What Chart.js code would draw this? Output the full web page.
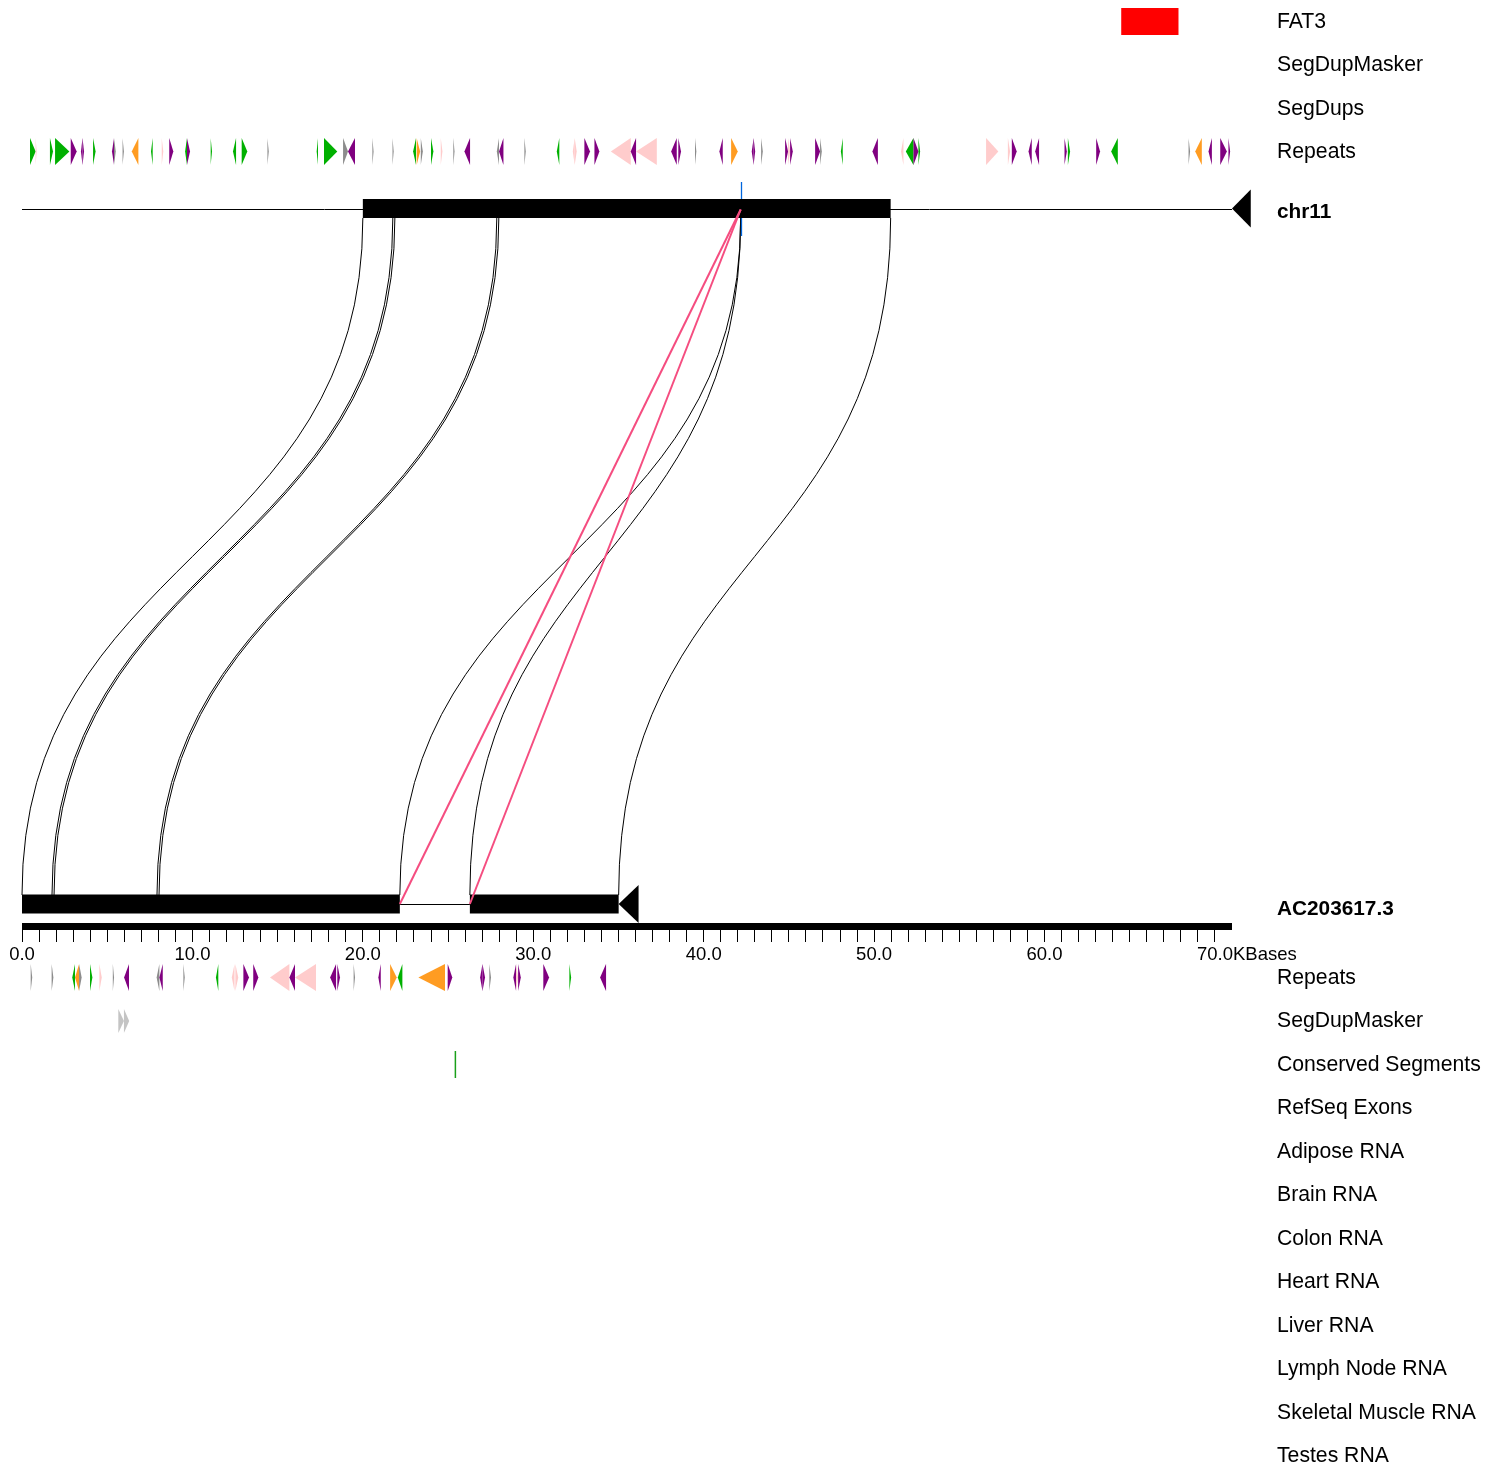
<!DOCTYPE html>
<html>
<head>
<meta charset="utf-8">
<script src="https://cdn.jsdelivr.net/npm/chart.js@4.4.1/dist/chart.umd.min.js"></script>
<style>
  html, body { margin: 0; padding: 0; background: #fff; }
  #wrap { width: 1494px; height: 1469px; }
</style>
</head>
<body>
<div id="wrap"><canvas id="synteny" width="1494" height="1469"></canvas></div>
<script>
// --- DATA (positions in KBases) ---
const axisMax = 71.0;
const axisTicks = Array.from({ length: 71 }, (_, i) => i); // 0..70 kb ruler ticks
const axisLabelTicks = [0, 10, 20, 30, 40, 50, 60, 70];

const chr11Length = 71.0;
const chr11Blocks = [[20.0, 50.97]];
const acBlocks = [[0.0, 22.17], [26.28, 35.01]];
const acEnd = 35.01;

// aligned blocks: chr11 interval -> AC203617.3 interval
const linkTop = [[20.0, 21.76], [21.88, 27.86], [27.98, 42.17], [42.17, 50.97]];
const linkBottom = [[0.0, 1.76], [1.88, 7.92], [8.04, 22.17], [26.28, 35.01]];

// inverted hits (pink)
const invTop = [42.17, 42.17];
const invBottom = [22.17, 26.28];
const markerTop = 42.17;

const fat3Gene = [64.5, 67.86];

// repeats: [start, end, strand, class]
const topRepeats = [
  [0.47, 0.80, 1, 'g'], [0.80, 0.86, 1, 'k'], [1.64, 1.82, 1, 'g'], [1.94, 2.78, 1, 'g'],
  [2.86, 3.21, 1, 'p'], [3.46, 3.55, -1, 'p'], [3.55, 3.64, 1, 'p'], [4.17, 4.32, 1, 'g'],
  [5.28, 5.40, -1, 'p'], [5.40, 5.50, 1, 's'], [5.90, 5.98, 1, 's'], [6.44, 6.83, -1, 'o'],
  [7.57, 7.67, -1, 'g'], [8.20, 8.29, 1, 'k'], [8.64, 8.88, 1, 'p'], [9.57, 9.68, -1, 'g'],
  [9.68, 9.86, 1, 'p'], [11.07, 11.15, 1, 'g'], [12.38, 12.56, -1, 'g'], [12.89, 13.22, 1, 'g'],
  [14.40, 14.48, 1, 's'], [17.29, 17.37, -1, 'g'], [17.72, 18.50, 1, 'g'], [18.84, 19.13, 1, 's'],
  [19.13, 19.54, -1, 'p'], [20.56, 20.63, 1, 's'], [21.74, 21.81, 1, 's'], [22.95, 23.12, -1, 'g'],
  [23.16, 23.36, 1, 'o'], [23.40, 23.52, 1, 's'], [24.00, 24.14, 1, 'g'], [24.57, 24.67, 1, 'k'],
  [25.31, 25.38, 1, 's'], [25.96, 26.29, -1, 'p'], [27.86, 27.99, -1, 's'], [27.99, 28.25, -1, 'p'],
  [29.48, 29.56, 1, 's'], [31.38, 31.53, -1, 'g'], [32.32, 32.43, -1, 'k'], [32.43, 32.55, 1, 'k'],
  [33.00, 33.33, 1, 'p'], [33.59, 33.88, 1, 'p'], [34.55, 35.72, -1, 'k'], [35.72, 36.03, -1, 'p'],
  [36.03, 37.25, -1, 'k'], [38.09, 38.42, -1, 'p'], [38.51, 38.67, 1, 'p'], [39.49, 39.57, 1, 's'],
  [40.92, 41.12, -1, 'p'], [41.61, 42.00, 1, 'o'], [42.82, 42.93, -1, 'p'], [42.93, 43.02, 1, 'p'],
  [43.37, 43.47, 1, 's'], [44.78, 44.95, 1, 'p'], [44.95, 45.07, 1, 'k'], [45.07, 45.23, 1, 'p'],
  [46.54, 46.83, 1, 'p'], [46.83, 46.93, 1, 's'], [48.05, 48.16, -1, 'g'], [49.90, 50.22, -1, 'p'],
  [51.58, 51.72, -1, 'k'], [51.86, 52.31, -1, 'g'], [52.31, 52.60, 1, 'p'], [52.60, 52.70, 1, 'g'],
  [56.57, 57.29, 1, 'k'], [57.85, 57.98, 1, 'k'], [58.08, 58.37, 1, 'p'], [59.06, 59.25, -1, 'p'],
  [59.45, 59.68, -1, 'p'], [61.17, 61.31, 1, 'p'], [61.37, 61.50, 1, 'g'], [63.03, 63.26, 1, 'p'],
  [63.91, 64.30, -1, 'g'], [68.45, 68.54, 1, 's'], [68.84, 69.23, -1, 'o'], [69.62, 69.82, -1, 'p'],
  [70.31, 70.70, 1, 'p'], [70.79, 70.89, 1, 'p']
];

const bottomRepeats = [
  [0.51, 0.60, 1, 's'], [1.74, 1.84, 1, 's'], [2.95, 3.11, -1, 'g'], [3.11, 3.35, -1, 'o'],
  [3.35, 3.50, 1, 's'], [3.99, 4.13, 1, 'g'], [4.54, 4.68, 1, 'k'], [5.33, 5.40, 1, 's'],
  [5.99, 6.28, -1, 'p'], [7.90, 8.06, -1, 's'], [8.06, 8.26, -1, 'p'], [9.47, 9.55, 1, 's'],
  [11.38, 11.52, -1, 'g'], [12.31, 12.47, -1, 'k'], [12.52, 12.69, 1, 'k'], [12.99, 13.32, 1, 'p'],
  [13.57, 13.87, 1, 'p'], [14.55, 15.69, -1, 'k'], [15.69, 16.02, -1, 'p'], [16.02, 17.25, -1, 'k'],
  [18.08, 18.43, -1, 'p'], [18.50, 18.66, 1, 'p'], [19.46, 19.54, 1, 's'], [20.91, 21.05, -1, 'p'],
  [21.60, 21.99, 1, 'o'], [22.05, 22.32, -1, 'g'], [23.26, 24.82, -1, 'o'], [24.98, 25.25, 1, 'p'],
  [26.88, 27.02, -1, 'p'], [27.02, 27.17, 1, 'p'], [27.42, 27.52, 1, 's'], [28.83, 28.99, -1, 'p'],
  [28.99, 29.11, 1, 'k'], [29.11, 29.27, 1, 'p'], [30.59, 30.93, 1, 'p'], [32.12, 32.22, 1, 'g'],
  [33.92, 34.27, -1, 'p']
];

const segDupMaskerBottom = [[5.65, 5.98, 1], [5.98, 6.29, 1]];
const conservedSegments = [25.43];

const topTrackNames = ['FAT3', 'SegDupMasker', 'SegDups', 'Repeats'];
const bottomTrackNames = ['Repeats', 'SegDupMasker', 'Conserved Segments', 'RefSeq Exons',
  'Adipose RNA', 'Brain RNA', 'Colon RNA', 'Heart RNA', 'Liver RNA', 'Lymph Node RNA',
  'Skeletal Muscle RNA', 'Testes RNA'];
const topSeqName = 'chr11';
const bottomSeqName = 'AC203617.3';
const axisUnit = 'KBases';

// --- STYLE / LAYOUT ---
const repeatColors = { g: '#00b000', p: '#800080', o: '#ff9c22', k: '#ffcccc', s: '#8c8c8c' };
const FONT = '"Liberation Sans", Arial, sans-serif';
const rowGap = 43.5;
const layout = {
  topRowY: 22, bottomRowY: 978, labelX: 1277,
  chrY: 208.5, acY: 904, barHalf: 9.5, arrowHalf: 19,
  linkTopY: 218, linkBottomY: 895, rulerTop: 923, rulerBottom: 930, tickLabelY: 954.5
};

function tri(ctx, x1, x2, yc, half, strand, color) {
  ctx.fillStyle = color;
  ctx.beginPath();
  if (strand > 0) {
    ctx.moveTo(x1, yc - half); ctx.lineTo(x2, yc); ctx.lineTo(x1, yc + half);
  } else {
    ctx.moveTo(x2, yc - half); ctx.lineTo(x1, yc); ctx.lineTo(x2, yc + half);
  }
  ctx.closePath();
  ctx.fill();
}

const genomePlugin = {
  id: 'genome',
  afterDraw(chart) {
    const ctx = chart.ctx;
    const xs = chart.scales.x;
    const px = v => xs.getPixelForValue(v);
    const L = layout;
    ctx.save();

    // ruler bar + labels
    ctx.fillStyle = '#000';
    ctx.fillRect(px(0), L.rulerTop, px(axisMax) - px(0), L.rulerBottom - L.rulerTop);
    ctx.font = '18.5px ' + FONT;
    ctx.textBaseline = 'middle';
    ctx.textAlign = 'center';
    axisLabelTicks.forEach(v => ctx.fillText(v.toFixed(1), px(v), L.tickLabelY));
    const lastLabel = axisLabelTicks[axisLabelTicks.length - 1];
    const wLast = ctx.measureText(lastLabel.toFixed(1)).width;
    ctx.textAlign = 'left';
    ctx.fillText(axisUnit, px(lastLabel) + wLast / 2, L.tickLabelY);

    // FAT3 gene
    ctx.fillStyle = '#ff0000';
    ctx.fillRect(px(fat3Gene[0]), 8, px(fat3Gene[1]) - px(fat3Gene[0]), 27);

    // repeats
    topRepeats.forEach(r => tri(ctx, px(r[0]), px(r[1]), 151.5, 13.5, r[2], repeatColors[r[3]]));
    bottomRepeats.forEach(r => tri(ctx, px(r[0]), px(r[1]), 977.5, 13.5, r[2], repeatColors[r[3]]));
    segDupMaskerBottom.forEach(r => tri(ctx, px(r[0]), px(r[1]), 1021, 12, r[2], '#c4c4c4'));

    // conserved segments
    ctx.strokeStyle = '#1aa01a';
    ctx.lineWidth = 1.5;
    conservedSegments.forEach(v => {
      ctx.beginPath();
      ctx.moveTo(px(v), 1051); ctx.lineTo(px(v), 1078);
      ctx.stroke();
    });

    // link curves
    const yt = L.linkTopY, yb = L.linkBottomY, ym = (yt + yb) / 2;
    ctx.strokeStyle = '#000';
    ctx.lineWidth = 1;
    linkTop.forEach((t, i) => {
      const b = linkBottom[i];
      [0, 1].forEach(k => {
        const x1 = px(t[k]), x2 = px(b[k]);
        ctx.beginPath();
        ctx.moveTo(x1, yt);
        ctx.bezierCurveTo(x1, ym, x2, ym, x2, yb);
        ctx.stroke();
      });
    });

    // blue marker
    const mx = Math.round(px(markerTop)) + 0.5;
    ctx.strokeStyle = '#0066dd';
    ctx.lineWidth = 1.3;
    ctx.beginPath();
    ctx.moveTo(mx, 182);
    ctx.lineTo(mx, 236);
    ctx.stroke();

    // chr11 track
    ctx.strokeStyle = '#000';
    ctx.fillStyle = '#000';
    ctx.lineWidth = 1;
    ctx.beginPath();
    ctx.moveTo(px(0), 209.5); ctx.lineTo(px(chr11Length), 209.5);
    ctx.stroke();
    chr11Blocks.forEach(b => ctx.fillRect(px(b[0]), L.chrY - L.barHalf, px(b[1]) - px(b[0]), 2 * L.barHalf));
    tri(ctx, px(chr11Length), px(chr11Length + 1.1), L.chrY, L.arrowHalf, -1, '#000');

    // AC203617.3 track
    ctx.beginPath();
    ctx.moveTo(px(acBlocks[0][1]), 904.5); ctx.lineTo(px(acBlocks[1][0]), 904.5);
    ctx.stroke();
    acBlocks.forEach(b => ctx.fillRect(px(b[0]), L.acY - L.barHalf, px(b[1]) - px(b[0]), 2 * L.barHalf));
    tri(ctx, px(acEnd), px(acEnd + 1.17), L.acY, L.arrowHalf, -1, '#000');

    // inverted hits
    ctx.strokeStyle = '#f54d80';
    ctx.lineWidth = 2;
    invTop.forEach((t, i) => {
      ctx.beginPath();
      ctx.moveTo(px(t), L.chrY + 1);
      ctx.lineTo(px(invBottom[i]), L.acY);
      ctx.stroke();
    });

    // track labels
    ctx.fillStyle = '#000';
    ctx.textAlign = 'left';
    ctx.textBaseline = 'middle';
    ctx.font = '21.2px ' + FONT;
    topTrackNames.forEach((n, i) => ctx.fillText(n, L.labelX, L.topRowY + i * rowGap));
    bottomTrackNames.forEach((n, i) => ctx.fillText(n, L.labelX, L.bottomRowY + i * rowGap));
    ctx.font = 'bold 20.8px ' + FONT;
    ctx.fillText(topSeqName, L.labelX, 212);
    ctx.fillText(bottomSeqName, L.labelX, 909);
    ctx.restore();
  }
};

new Chart(document.getElementById('synteny'), {
  type: 'scatter',
  data: { datasets: [] },
  options: {
    responsive: false,
    animation: false,
    layout: { padding: { left: 22, right: 262, top: 0, bottom: 527 } },
    plugins: { legend: { display: false }, tooltip: { enabled: false } },
    scales: {
      x: {
        type: 'linear',
        position: 'bottom',
        min: 0,
        max: axisMax,
        afterBuildTicks: axis => { axis.ticks = axisTicks.map(v => ({ value: v })); },
        ticks: { display: false, autoSkip: false },
        grid: { drawOnChartArea: false, drawTicks: true, tickLength: 12, color: '#000', lineWidth: 1 },
        border: { display: false }
      },
      y: { display: false, min: 0, max: 1 }
    }
  },
  plugins: [genomePlugin]
});
</script>
</body>
</html>
